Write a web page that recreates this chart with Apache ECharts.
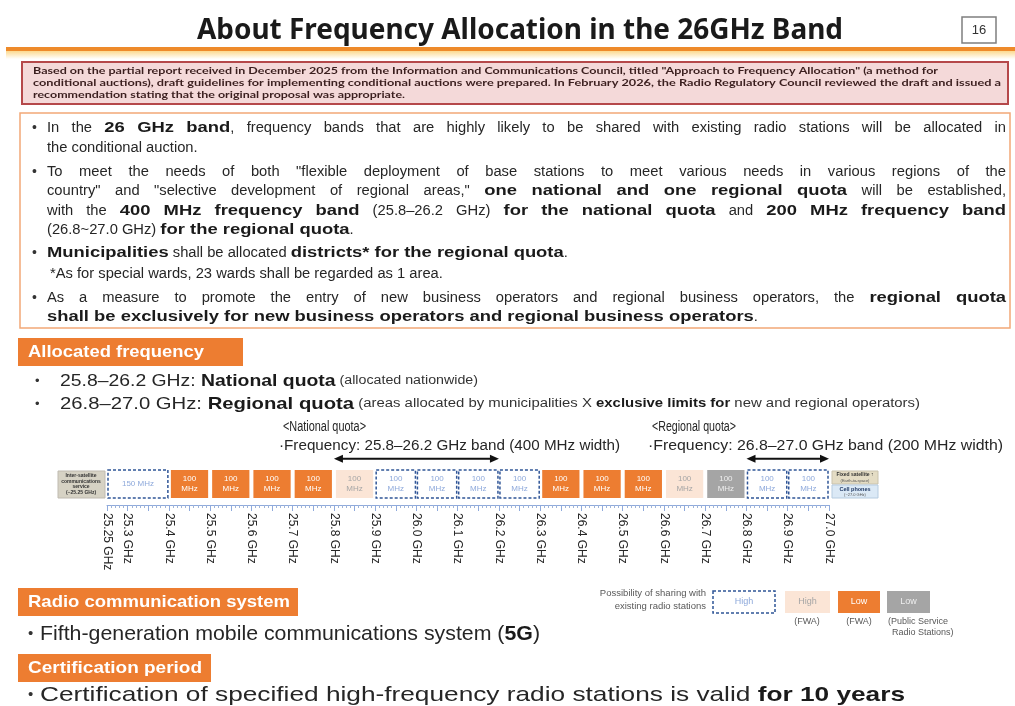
<!DOCTYPE html>
<html><head><meta charset="utf-8">
<script src="https://cdn.jsdelivr.net/npm/echarts@6/dist/echarts.min.js"></script>
<style>html,body{margin:0;padding:0;background:#fff}#c{width:1015px;height:706px}</style>
</head><body><div id="c"></div>
<script>
// ---- data ----
const tickValues = [25.25,25.3,25.4,25.5,25.6,25.7,25.8,25.9,26.0,26.1,26.2,26.3,26.4,26.5,26.6,26.7,26.8,26.9,27.0];
const tickLabels = ['25.25 GHz','25.3 GHz','25.4 GHz','25.5 GHz','25.6 GHz','25.7 GHz','25.8 GHz','25.9 GHz','26.0 GHz','26.1 GHz','26.2 GHz','26.3 GHz','26.4 GHz','26.5 GHz','26.6 GHz','26.7 GHz','26.8 GHz','26.9 GHz','27.0 GHz'];
const bandStarts = [25.25,25.4,25.5,25.6,25.7,25.8,25.9,26.0,26.1,26.2,26.3,26.4,26.5,26.6,26.7,26.8,26.9];
const bandEnds   = [25.4,25.5,25.6,25.7,25.8,25.9,26.0,26.1,26.2,26.3,26.4,26.5,26.6,26.7,26.8,26.9,27.0];
const bandKinds  = ['high','low','low','low','low','highFWA','high','high','high','high','low','low','low','highFWA','public','high','high'];
const bandLabels = ['150 MHz','100\nMHz','100\nMHz','100\nMHz','100\nMHz','100\nMHz','100\nMHz','100\nMHz','100\nMHz','100\nMHz','100\nMHz','100\nMHz','100\nMHz','100\nMHz','100\nMHz','100\nMHz','100\nMHz'];
const quotaStarts = [25.8, 26.8];
const quotaEnds   = [26.2, 27.0];

// ---- styles ----
const ORANGE = '#ed7d31';
const kindStyle = {
  high:    {fill:'#ffffff', stroke:'#2f5597', dash:[3,2], text:'#8ea9db'},
  low:     {fill:ORANGE, stroke:null, text:'#ffffff'},
  highFWA: {fill:'#fbe5d6', stroke:null, text:'#a6a6a6'},
  public:  {fill:'#a5a5a5', stroke:null, text:'#eeeeee'}
};
const SANS = "'Liberation Sans', Arial, sans-serif";
const ctx = document.createElement('canvas').getContext('2d');
function w(text, st){ ctx.font = (st.fontWeight==='bold'?'bold ':'') + st.fontSize + 'px ' + (st.fontFamily||SANS); return ctx.measureText(text).width; }
function rt(segs){ return segs.map(s => '{'+s[1]+'|'+s[0]+'}').join(''); }

function line(x, y, segs, rich, opt){
  opt = opt || {};
  let total = 0;
  segs.forEach(s => total += w(s[0], rich[s[1]]));
  const sc = opt.target ? opt.target/total : (opt.scale || 1);
  return {type:'text', x:x, y:y, scaleX:sc, silent:true,
    style:{text: rt(segs), rich:rich, align:'left', verticalAlign:'middle'}};
}
function plain(x, y, text, st, opt){ return line(x, y, [[text,'t']], {t: st}, opt); }

// piecewise layout: each styled piece has its own horizontal factor (bold is drawn wider)
function pieceScale(st, gs, bf){ return gs * (st.fontWeight === 'bold' ? bf : 1); }
function pieceEl(x, y, t, st, sc){
  return {type:'text', x:x, y:y, scaleX:sc, silent:true,
    style:{text:t, fontSize:st.fontSize, fontWeight:st.fontWeight||'normal', fontFamily:st.fontFamily||SANS, fill:st.fill, align:'left', verticalAlign:'middle'}};
}
function layout(out, x, y, segs, rich, gs, bf, justifyTo){
  if (!justifyTo) {
    let cx = x;
    segs.forEach(s => { const st = rich[s[1]], sc = pieceScale(st, gs, bf);
      out.push(pieceEl(cx, y, s[0], st, sc)); cx += w(s[0], st) * sc; });
    return;
  }
  const words = []; let cur = [];
  segs.forEach(s => {
    s[0].split(' ').forEach((p, j) => {
      if (j > 0) { if (cur.length) words.push(cur); cur = []; }
      if (p.length) cur.push([p, s[1]]);
    });
  });
  if (cur.length) words.push(cur);
  const ww = words.map(wd => wd.reduce((a, s) => a + w(s[0], rich[s[1]]) * pieceScale(rich[s[1]], gs, bf), 0));
  const sum = ww.reduce((a, b) => a + b, 0);
  const gap = (justifyTo - sum) / (words.length - 1);
  let cx = x;
  words.forEach((wd, i) => {
    let px = cx;
    wd.forEach(s => { const st = rich[s[1]], sc = pieceScale(st, gs, bf);
      out.push(pieceEl(px, y, s[0], st, sc)); px += w(s[0], st) * sc; });
    cx += ww[i] + gap;
  });
}

const mainRich = {
  n:{fontSize:15.5, fontFamily:SANS, fill:'#262626'},
  b:{fontSize:15.5, fontFamily:SANS, fontWeight:'bold', fill:'#1a1a1a'}
};
const GS = 0.95, BF = 1.25;
const mainLines = [
  [128, [['In the ','n'],['26 GHz band','b'],[', frequency bands that are highly likely to be shared with existing radio stations will be allocated in','n']], true, 47],
  [148, [['the conditional auction.','n']], false, 47],
  [172, [['To meet the needs of both "flexible deployment of base stations to meet various needs in various regions of the','n']], true, 47],
  [191, [['country" and "selective development of regional areas," ','n'],['one national and one regional quota','b'],[' will be established,','n']], true, 47],
  [211, [['with the ','n'],['400 MHz frequency band','b'],[' (25.8\u201326.2 GHz) ','n'],['for the national quota','b'],[' and ','n'],['200 MHz frequency band','b']], true, 47],
  [230, [['(26.8~27.0 GHz) ','n'],['for the regional quota','b'],['.','n']], false, 47],
  [253, [['Municipalities','b'],[' shall be allocated ','n'],['districts* for the regional quota','b'],['.','n']], false, 47],
  [274, [['*As for special wards, 23 wards shall be regarded as 1 area.','n']], false, 50],
  [298, [['As a measure to promote the entry of new business operators and regional business operators, the ','n'],['regional quota','b']], true, 47],
  [317, [['shall be exclusively for new business operators and regional business operators','b'],['.','n']], false, 47]
];
const bulletYs = [128, 172, 253, 298];

const G = [];
// title
G.push(plain(197, 31, 'About Frequency Allocation in the 26GHz Band', {fontSize:29, fontWeight:'bold', fontFamily:"'Noto Sans', sans-serif", fill:'#1a1a1a'}, {target:646}));
G.push({type:'rect', shape:{x:962,y:17,width:34,height:26}, style:{fill:'#fff', stroke:'#7f7f7f', lineWidth:1.5}});
G.push({type:'text', x:979, y:30, style:{text:'16', fontSize:13, fontFamily:SANS, fill:'#333', align:'center', verticalAlign:'middle'}});
G.push({type:'rect', shape:{x:6,y:47,width:1009,height:4}, style:{fill:'#ee8a2a'}});
G.push({type:'rect', shape:{x:6,y:51,width:1009,height:8}, style:{fill:{type:'linear',x:0,y:0,x2:0,y2:1,colorStops:[{offset:0,color:'#fcd98f'},{offset:1,color:'#ffffff'}]}}});
// pink box
G.push({type:'rect', shape:{x:22,y:62,width:986,height:42}, style:{fill:'#f4d9d9', stroke:'#b5484a', lineWidth:2}});
const pinkSt = {fontSize:9, fontWeight:'bold', fontFamily:"Lato, sans-serif", fill:'#3b1f1f'};
G.push(plain(33, 71, 'Based on the partial report received in December 2025 from the Information and Communications Council, titled "Approach to Frequency Allocation" (a method for', pinkSt, {target:905}));
G.push(plain(33, 83, 'conditional auctions), draft guidelines for implementing conditional auctions were prepared. In February 2026, the Radio Regulatory Council reviewed the draft and issued a', pinkSt, {target:968}));
G.push(plain(33, 95, 'recommendation stating that the original proposal was appropriate.', pinkSt, {target:372}));
// main box
G.push({type:'rect', shape:{x:20,y:113,width:990,height:215}, style:{fill:'#fff', stroke:'#f2a877', lineWidth:1.5}});
mainLines.forEach(L => layout(G, L[3], L[0], L[1], mainRich, GS, BF, L[2] ? 1006 - L[3] : 0));
bulletYs.forEach(y => G.push({type:'text', x:32, y:y, style:{text:'\u2022', fontSize:14, fontFamily:SANS, fill:'#333', verticalAlign:'middle'}}));

// section headers
function header(x, y, wd, txt, tw){
  G.push({type:'rect', shape:{x:x,y:y,width:wd,height:28}, style:{fill:ORANGE}});
  G.push(plain(x+10, y+14, txt, {fontSize:17, fontWeight:'bold', fontFamily:SANS, fill:'#fff'}, {target:tw}));
}
header(18, 338, 225, 'Allocated frequency', 176);
header(18, 588, 280, 'Radio communication system', 262);
header(18, 654, 193, 'Certification period', 174);

const allocRich = {
  n:{fontSize:17, fontFamily:SANS, fill:'#262626'},
  b:{fontSize:17, fontFamily:SANS, fontWeight:'bold', fill:'#1a1a1a'},
  s:{fontSize:12.5, fontFamily:SANS, fill:'#333'},
  sb:{fontSize:12.5, fontFamily:SANS, fontWeight:'bold', fill:'#1a1a1a'}
};
G.push({type:'text', x:35, y:381, style:{text:'\u2022', fontSize:13, fontFamily:SANS, fill:'#333', verticalAlign:'middle'}});
G.push({type:'text', x:35, y:404, style:{text:'\u2022', fontSize:13, fontFamily:SANS, fill:'#333', verticalAlign:'middle'}});
G.push(line(60, 381, [['25.8\u201326.2 GHz: ','n'],['National quota','b'],[' (allocated nationwide)','s']], allocRich, {target:418}));
G.push(line(60, 404, [['26.8\u201327.0 GHz: ','n'],['Regional quota','b'],[' (areas allocated by municipalities X ','s'],['exclusive limits for','sb'],[' new and regional operators)','s']], allocRich, {target:860}));

const qSt = {fontSize:14, fontFamily:SANS, fill:'#262626'};
G.push(plain(283, 427, '<National quota>', qSt, {target:83}));
G.push(plain(279, 446, '\u00b7Frequency: 25.8\u201326.2 GHz band (400 MHz width)', qSt, {target:341}));
G.push(plain(652, 427, '<Regional quota>', qSt, {target:84}));
G.push(plain(648, 446, '\u00b7Frequency: 26.8\u201327.0 GHz band (200 MHz width)', qSt, {target:355}));

// side boxes of the band strip
G.push({type:'rect', shape:{x:58,y:471,width:47,height:27}, style:{fill:'#d6d2c4', stroke:'#bfbab0', lineWidth:1}});
['Inter-satellite','communications','service','(~25.25 GHz)'].forEach((t,i) => G.push({type:'text', x:81, y:476+i*5.5, style:{text:t, fontSize:5, fontWeight:'bold', fontFamily:SANS, fill:'#333', align:'center', verticalAlign:'middle'}}));
G.push({type:'rect', shape:{x:832,y:471,width:46,height:13}, style:{fill:'#e4dcc4', stroke:'#c9c2ad', lineWidth:1}});
G.push({type:'text', x:855, y:475, style:{text:'Fixed satellite \u2191', fontSize:5, fontWeight:'bold', fontFamily:SANS, fill:'#333', align:'center', verticalAlign:'middle'}});
G.push({type:'text', x:855, y:480.5, style:{text:'(Earth-to-space)', fontSize:4, fontFamily:SANS, fill:'#555', align:'center', verticalAlign:'middle'}});
G.push({type:'rect', shape:{x:832,y:485,width:46,height:13}, style:{fill:'#dbe9f6', stroke:'#b5cbe0', lineWidth:1}});
G.push({type:'text', x:855, y:489, style:{text:'Cell phones', fontSize:5.5, fontWeight:'bold', fontFamily:SANS, fill:'#1f3864', align:'center', verticalAlign:'middle'}});
G.push({type:'text', x:855, y:494.5, style:{text:'(~27.0 GHz)', fontSize:4, fontFamily:SANS, fill:'#555', align:'center', verticalAlign:'middle'}});

// legend
G.push({type:'text', x:706, y:593, style:{text:'Possibility of sharing with', fontSize:9.5, fontFamily:SANS, fill:'#595959', align:'right', verticalAlign:'middle'}});
G.push({type:'text', x:706, y:606, style:{text:'existing radio stations', fontSize:9.5, fontFamily:SANS, fill:'#595959', align:'right', verticalAlign:'middle'}});
function lgBox(x, wd, ks, label){
  const k = kindStyle[ks];
  G.push({type:'rect', shape:{x:x,y:591,width:wd,height:22}, style:{fill:k.fill, stroke:k.stroke, lineWidth:k.stroke?1.5:0, lineDash:k.dash||null}});
  G.push({type:'text', x:x+wd/2, y:602, style:{text:label, fontSize:9, fontFamily:SANS, fill:k.text, align:'center', verticalAlign:'middle'}});
}
lgBox(713, 62, 'high', 'High');
lgBox(785, 45, 'highFWA', 'High');
lgBox(838, 42, 'low', 'Low');
lgBox(887, 43, 'public', 'Low');
G.push({type:'text', x:807, y:622, style:{text:'(FWA)', fontSize:9, fontFamily:SANS, fill:'#595959', align:'center', verticalAlign:'middle'}});
G.push({type:'text', x:859, y:622, style:{text:'(FWA)', fontSize:9, fontFamily:SANS, fill:'#595959', align:'center', verticalAlign:'middle'}});
G.push({type:'text', x:888, y:622, style:{text:'(Public Service', fontSize:9, fontFamily:SANS, fill:'#595959', verticalAlign:'middle'}});
G.push({type:'text', x:892, y:633, style:{text:'Radio Stations)', fontSize:9, fontFamily:SANS, fill:'#595959', verticalAlign:'middle'}});

// bottom bullets
const botRich = {n:{fontSize:21, fontFamily:SANS, fill:'#262626'}, b:{fontSize:21, fontFamily:SANS, fontWeight:'bold', fill:'#1a1a1a'}};
G.push({type:'text', x:28, y:634, style:{text:'\u2022', fontSize:15, fontFamily:SANS, fill:'#333', verticalAlign:'middle'}});
G.push({type:'text', x:28, y:695, style:{text:'\u2022', fontSize:15, fontFamily:SANS, fill:'#333', verticalAlign:'middle'}});
G.push(line(40, 634, [['Fifth-generation mobile communications system (','n'],['5G','b'],[')','n']], botRich, {target:500}));
G.push(line(40, 695, [['Certification of specified high-frequency radio stations is valid ','n'],['for 10 years','b']], botRich, {target:865}));

// ---- chart ----
function renderBand(params, api){
  const i = params.dataIndex;
  const k = kindStyle[bandKinds[i]];
  const p0 = api.coord([api.value(0), 1]);
  const p1 = api.coord([api.value(1), 0.2]);
  const inset = k.stroke ? 1 : 2;
  const x = p0[0] + inset, y = p0[1], wd = p1[0] - p0[0] - 2*inset, ht = p1[1] - p0[1];
  return {type:'group', children:[
    {type:'rect', shape:{x:x, y:y, width:wd, height:ht},
     style:{fill:k.fill, stroke:k.stroke, lineWidth:k.stroke?1.5:0, lineDash:k.dash||null}},
    {type:'text', x:x+wd/2, y:y+ht/2,
     style:{text:bandLabels[i], fontSize:8, lineHeight:10, fontFamily:SANS, fill:k.text, align:'center', verticalAlign:'middle'}}
  ]};
}
const ARROW_LEVEL = 1.32;
function renderArrow(params, api){
  const a = api.coord([api.value(0), ARROW_LEVEL]);
  const b = api.coord([api.value(1), ARROW_LEVEL]);
  const h = 9, hw = 4;
  return {type:'group', children:[
    {type:'line', shape:{x1:a[0]+h-1, y1:a[1], x2:b[0]-h+1, y2:b[1]}, style:{stroke:'#111', lineWidth:2}},
    {type:'polygon', shape:{points:[[a[0],a[1]],[a[0]+h,a[1]-hw],[a[0]+h,a[1]+hw]]}, style:{fill:'#111'}},
    {type:'polygon', shape:{points:[[b[0],b[1]],[b[0]-h,b[1]-hw],[b[0]-h,b[1]+hw]]}, style:{fill:'#111'}}
  ]};
}

const chart = echarts.init(document.getElementById('c'), null, {renderer:'canvas'});
chart.setOption({
  animation:false,
  backgroundColor:'#fff',
  grid:{left:107, right:186, top:470, height:35, containLabel:false},
  xAxis:{type:'value', min:25.25, max:27.0, interval:0.05,
    splitLine:{show:false},
    axisLine:{show:true, lineStyle:{color:'#8faadc', width:1}},
    axisTick:{show:true, length:6, lineStyle:{color:'#8faadc'}},
    minorTick:{show:true, splitNumber:5, length:3, lineStyle:{color:'#9db3d9'}},
    axisLabel:{rotate:-90, margin:8, fontSize:12, fontFamily:SANS, color:'#262626',
      formatter: v => { const i = tickValues.findIndex(t => Math.abs(t - v) < 1e-6); return i >= 0 ? tickLabels[i] : ''; }}
  },
  yAxis:{type:'value', min:0, max:1, show:false},
  series:[
    {type:'custom', name:'bands', renderItem:renderBand, clip:false,
     data: bandStarts.map((s,i) => [s, bandEnds[i]]), encode:{x:[0,1]}},
    {type:'custom', name:'quotas', renderItem:renderArrow, clip:false,
     data: quotaStarts.map((s,i) => [s, quotaEnds[i]]), encode:{x:[0,1]}}
  ],
  graphic: G
});
</script>
</body></html>
